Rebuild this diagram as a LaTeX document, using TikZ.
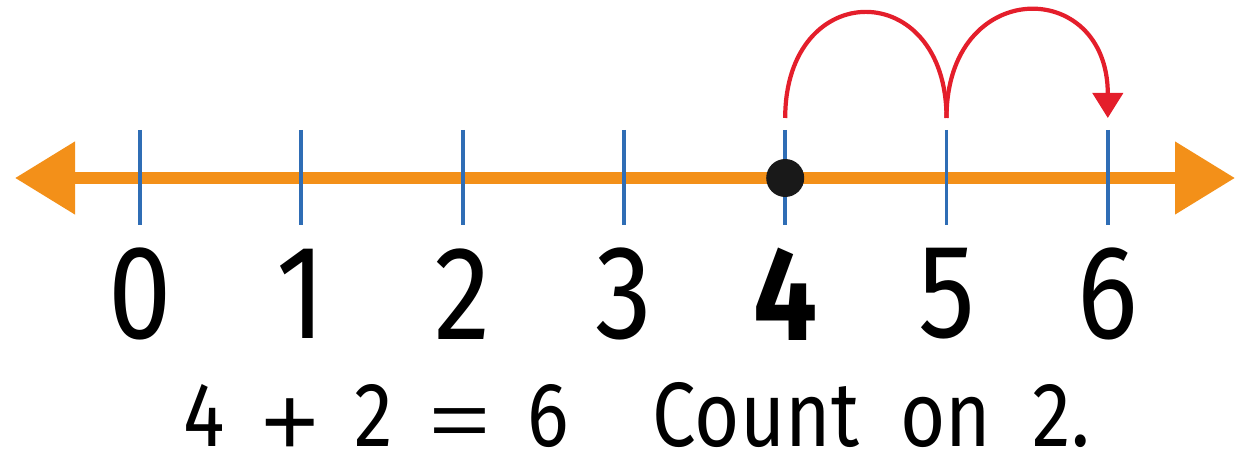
\documentclass[tikz,border=0pt]{standalone}
\usepackage{fontspec}
\setmainfont[FakeStretch=0.85]{Fira Sans}
\newfontfamily\opfont{Liberation Sans}
\usepackage{tikz}
\usepackage{xcolor}
\usetikzlibrary{arrows.meta,positioning}

\definecolor{lineorange}{HTML}{F39019}
\definecolor{tickblue}{HTML}{2F6DB5}
\definecolor{hopred}{HTML}{E41E2B}

\newcommand{\sumgap}{\hspace{0.73cm}}
\newcommand{\wordgap}{\hspace{0.83cm}}
\newcommand{\bigplus}{\raisebox{-0.19cm}{\opfont\fontsize{56}{56}\selectfont +}}
\newcommand{\bigequals}{\scalebox{1.35}[1]{\opfont\fontsize{44}{44}\selectfont =}}

\begin{document}
\begin{tikzpicture}[
    axis/.style={draw=lineorange, line width=6.5pt,
                 {Triangle[length=1.2cm,width=1.4cm]}-{Triangle[length=1.2cm,width=1.4cm]}},
    tickline/.style={draw=tickblue, line width=2.2pt},
    num/.style={font=\fontsize{76}{76}\selectfont, inner sep=0pt},
    sumtext/.style={font=\fontsize{52}{52}\selectfont, inner sep=0pt, anchor=base},
    hop/.style={draw=hopred, line width=2.4pt},
    dot/.style={circle, fill=black!90, minimum size=0.76cm, inner sep=0pt}
]
\useasboundingbox (0,0) rectangle (24.74,9.32);

\coordinate (left) at (0.3,5.76);
\coordinate (right) at (24.7,5.76);
\draw[axis] (left) -- (right);

\foreach \i in {0,...,6} {
  \coordinate (t\i) at ({2.80+3.226*\i},5.76);
  \coordinate (top\i) at ({2.80+3.226*\i},6.72);
  \coordinate (bot\i) at ({2.80+3.226*\i},4.82);
  \coordinate (h\i) at ({2.80+3.226*\i},6.96);
  \draw[tickline] (top\i) -- (bot\i);
  \node[num] (n\i) at ({2.80+3.226*\i},3.44) {\ifnum\i=4 \bfseries\fi\i};
}

\node[dot] (start) at (t4) {};

% counting on two jumps
\draw[hop] (h4) .. controls +(0,2.83) and +(0,2.83) .. (h5);
\draw[hop, -{Triangle[length=0.5cm,width=0.6cm]}]
    (h5) .. controls +(0,2.83) and +(0,2.83) .. (h6);

\node[sumtext] (sum) at (7.52,0.4) {4\sumgap\bigplus\sumgap2\sumgap\bigequals\sumgap6};
\node[sumtext] (count) at (17.43,0.4) {Count\wordgap on\wordgap 2.};

\end{tikzpicture}
\end{document}
